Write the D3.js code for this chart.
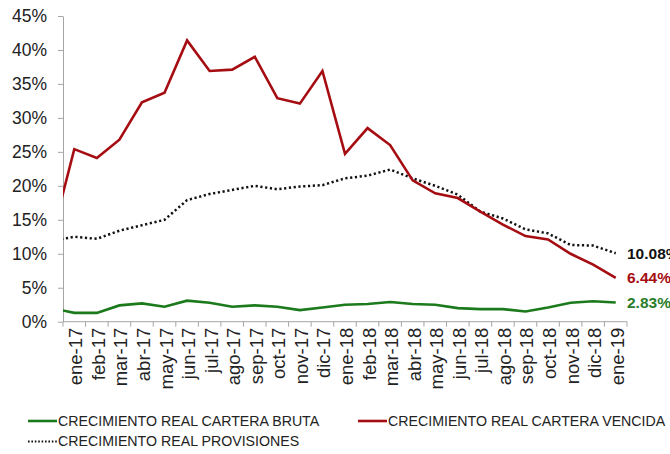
<!DOCTYPE html>
<html lang="es">
<head>
<meta charset="utf-8">
<title>Crecimiento real cartera</title>
<script src="https://d3js.org/d3.v7.min.js"></script>
<style>
  body { margin: 0; background: #fff; }
  text { font-family: "Liberation Sans", Arial, sans-serif; }
</style>
</head>
<body>
<div id="chart"></div>
<script>
// months shown on the axis
var months = ["ene-17","feb-17","mar-17","abr-17","may-17","jun-17","jul-17","ago-17","sep-17","oct-17","nov-17","dic-17",
              "ene-18","feb-18","mar-18","abr-18","may-18","jun-18","jul-18","ago-18","sep-18","oct-18","nov-18","dic-18","ene-19"];
// previous month, only its segment peeks in at the left edge
var prevMonth = "dic-16";

// values in %
var carteraBruta   = [1.3,1.3,2.4,2.7,2.2,3.1,2.8,2.2,2.4,2.2,1.7,2.1,2.5,2.6,2.9,2.6,2.5,2.0,1.85,1.85,1.5,2.1,2.8,3.0,2.83];
var carteraVencida = [25.4,24.1,26.8,32.3,33.7,41.4,36.9,37.1,39.0,32.9,32.1,36.9,24.7,28.5,26.0,20.8,18.9,18.2,16.2,14.3,12.6,12.1,10.0,8.4,6.44];
var provisiones    = [12.5,12.2,13.4,14.2,15.0,17.9,18.8,19.4,20.0,19.5,19.9,20.1,21.1,21.5,22.4,21.1,20.0,18.7,16.2,15.2,13.6,13.0,11.3,11.2,10.08];
var prevValues = {bruta: 2.0, vencida: 12.4, prov: 11.9};

var yTicks = [0,5,10,15,20,25,30,35,40,45];

var W = 670, H = 454;
var plotL = 63, plotR = 627, plotT = 16, plotB = 321.7;

var svg = d3.select("#chart").append("svg")
  .attr("width", W)
  .attr("height", H);

var step = (plotR - plotL) / months.length;
var x = d3.scaleBand()
  .domain([prevMonth].concat(months))
  .range([plotL - step, plotR])
  .paddingInner(0).paddingOuter(0);
var y = d3.scaleLinear().domain([0, 45]).range([plotB, plotT]);

function cx(m) { return x(m) + x.bandwidth() / 2; }

svg.append("defs").append("clipPath").attr("id", "plot")
  .append("rect").attr("x", plotL).attr("y", 0).attr("width", plotR - plotL + 10).attr("height", H);

// y axis
var yAxis = svg.append("g")
  .attr("transform", "translate(" + plotL + ",0)")
  .call(d3.axisLeft(y).tickValues(yTicks).tickSize(5).tickSizeOuter(0).tickFormat(function(d){ return d + "%"; }));
yAxis.select(".domain").attr("stroke", "#a6a6a6");
yAxis.selectAll(".tick line").attr("stroke", "#a6a6a6");
yAxis.selectAll(".tick text")
  .attr("x", -16)
  .style("font-size", "17.5px")
  .attr("fill", "#222");

// x axis line + tick marks at category edges
svg.append("line")
  .attr("x1", plotL).attr("x2", plotR)
  .attr("y1", plotB).attr("y2", plotB)
  .attr("stroke", "#a6a6a6");
svg.selectAll(".xtick")
  .data(months.concat(["end"]))
  .enter().append("line")
  .attr("class", "xtick")
  .attr("x1", function(d){ return d === "end" ? plotR : x(d); })
  .attr("x2", function(d){ return d === "end" ? plotR : x(d); })
  .attr("y1", plotB).attr("y2", plotB + 5)
  .attr("stroke", "#a6a6a6");

svg.selectAll(".xlab")
  .data(months)
  .enter().append("text")
  .attr("class", "xlab")
  .attr("transform", function(d){ return "translate(" + (cx(d) + 1.5) + "," + (plotB + 6) + ") rotate(-90)"; })
  .attr("text-anchor", "end")
  .attr("dy", "0.35em")
  .style("font-size", "18.5px")
  .attr("fill", "#222")
  .text(function(d){ return d; });

// lines
var line = d3.line()
  .x(function(d){ return cx(d.m); })
  .y(function(d){ return y(d.v); });

function series(vals, prev) {
  var out = [{m: prevMonth, v: prev}];
  vals.forEach(function(v, i){ out.push({m: months[i], v: v}); });
  return out;
}

var g = svg.append("g").attr("clip-path", "url(#plot)");

g.append("path")
  .datum(series(provisiones, prevValues.prov))
  .attr("d", line)
  .attr("fill", "none")
  .attr("stroke", "#111")
  .attr("stroke-width", 2.5)
  .attr("stroke-dasharray", "2.2,2.6");

g.append("path")
  .datum(series(carteraVencida, prevValues.vencida))
  .attr("d", line)
  .attr("fill", "none")
  .attr("stroke", "#a50d12")
  .attr("stroke-width", 2.6);

g.append("path")
  .datum(series(carteraBruta, prevValues.bruta))
  .attr("d", line)
  .attr("fill", "none")
  .attr("stroke", "#1b7a1b")
  .attr("stroke-width", 2.6);

// end labels
var last = months.length - 1;
var endLabels = [
  {v: provisiones[last], color: "#111"},
  {v: carteraVencida[last], color: "#a50d12"},
  {v: carteraBruta[last], color: "#2a7d2a"}
];
svg.selectAll(".endlab")
  .data(endLabels)
  .enter().append("text")
  .attr("x", plotR)
  .attr("y", function(d){ return y(d.v); })
  .attr("dy", "0.35em")
  .style("font-size", "15.5px")
  .style("font-weight", "bold")
  .attr("fill", function(d){ return d.color; })
  .text(function(d){ return d.v.toFixed(2) + "%"; });

// legend
var legend = [
  {name: "CRECIMIENTO REAL CARTERA BRUTA", color: "#1b7a1b", dash: null, lx: 28, ly: 421},
  {name: "CRECIMIENTO REAL CARTERA VENCIDA", color: "#a50d12", dash: null, lx: 358, ly: 421},
  {name: "CRECIMIENTO REAL PROVISIONES", color: "#111", dash: "1.6,1.8", lx: 28, ly: 441.5}
];
var lg = svg.selectAll(".leg").data(legend).enter().append("g")
  .attr("transform", function(d){ return "translate(" + d.lx + "," + d.ly + ")"; });
lg.append("line")
  .attr("x1", 0).attr("x2", 29)
  .attr("stroke", function(d){ return d.color; })
  .attr("stroke-width", function(d){ return d.dash ? 2 : 2.6; })
  .attr("stroke-dasharray", function(d){ return d.dash; });
lg.append("text")
  .attr("x", 30)
  .attr("dy", "0.35em")
  .style("font-size", "14.2px")
  .attr("fill", "#222")
  .text(function(d){ return d.name; });
</script>
</body>
</html>
